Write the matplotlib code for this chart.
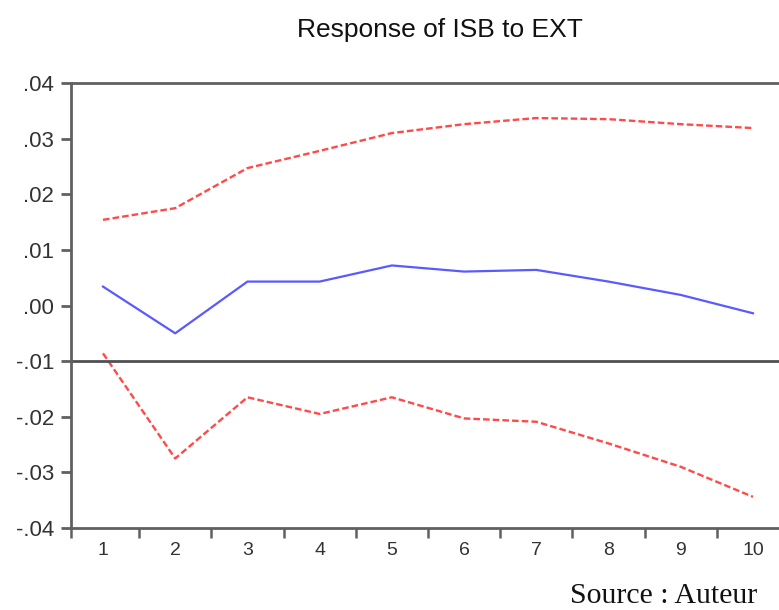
import matplotlib
matplotlib.use("Agg")
import matplotlib.pyplot as plt
import numpy as np

periods = [1, 2, 3, 4, 5, 6, 7, 8, 9, 10]
response = [0.0034, -0.0050, 0.0043, 0.0043, 0.0072, 0.0061, 0.0064, 0.0043, 0.0019, -0.0014]
upper_band = [0.0154, 0.0175, 0.0247, 0.0278, 0.0310, 0.0326, 0.0337, 0.0335, 0.0326, 0.0319]
lower_band = [-0.0086, -0.0275, -0.0165, -0.0195, -0.0165, -0.0203, -0.0209, -0.0248, -0.0290, -0.0344]
y_ticks = [0.04, 0.03, 0.02, 0.01, 0.00, -0.01, -0.02, -0.03, -0.04]
y_labels = [".04", ".03", ".02", ".01", ".00", "-.01", "-.02", "-.03", "-.04"]
ref_level = -0.01
title = "Response of ISB to EXT"
source = "Source : Auteur"

plt.rcParams['font.family'] = ['Liberation Sans', 'DejaVu Sans']

fig = plt.figure(figsize=(7.79, 6.10), dpi=100)
ax = fig.add_axes([71/779, 1-528/610, 1-71/779, (528-83)/610])

spine_col = "#606060"
ax.plot(periods, upper_band, color="#ff4a4a", lw=1.7, dashes=(2.8, 1.3))
ax.plot(periods, lower_band, color="#ff4a4a", lw=1.7, dashes=(2.8, 1.3))
ax.plot(periods, response, color="#5a5aff", lw=1.6)
ax.axhline(ref_level, color="#505050", lw=2.0)

ax.set_xlim(0.557, 10.36)
ax.set_ylim(-0.04, 0.04)

for s in ["left", "bottom", "top"]:
    ax.spines[s].set_color(spine_col)
    ax.spines[s].set_linewidth(2.0)
ax.spines["right"].set_visible(False)

ax.set_yticks(y_ticks)
ax.set_yticklabels(y_labels)
ax.tick_params(axis="y", direction="out", length=7, width=2, color=spine_col,
               labelsize=16, labelcolor="#333333", pad=5)

ax.set_xticks(periods)
ax.set_xticklabels([str(p) for p in periods])
ax.tick_params(axis="x", which="major", length=0, labelsize=14, labelcolor="#333333", pad=10)
mid = [p + 0.5 for p in periods[:-1]]
ax.set_xticks([0.557] + mid, minor=True)
ax.tick_params(axis="x", which="minor", direction="out", length=7, width=1.8, color=spine_col)

fig.text(440/779, 1-30/610, title, ha="center", va="center", fontsize=19, color="#111111")
fig.text(570/779, 1-596/610, source, ha="left", va="center", fontsize=21.5,
         family=["Liberation Serif", "DejaVu Serif"], color="#111111")

fig.savefig("out.png", dpi=100)
